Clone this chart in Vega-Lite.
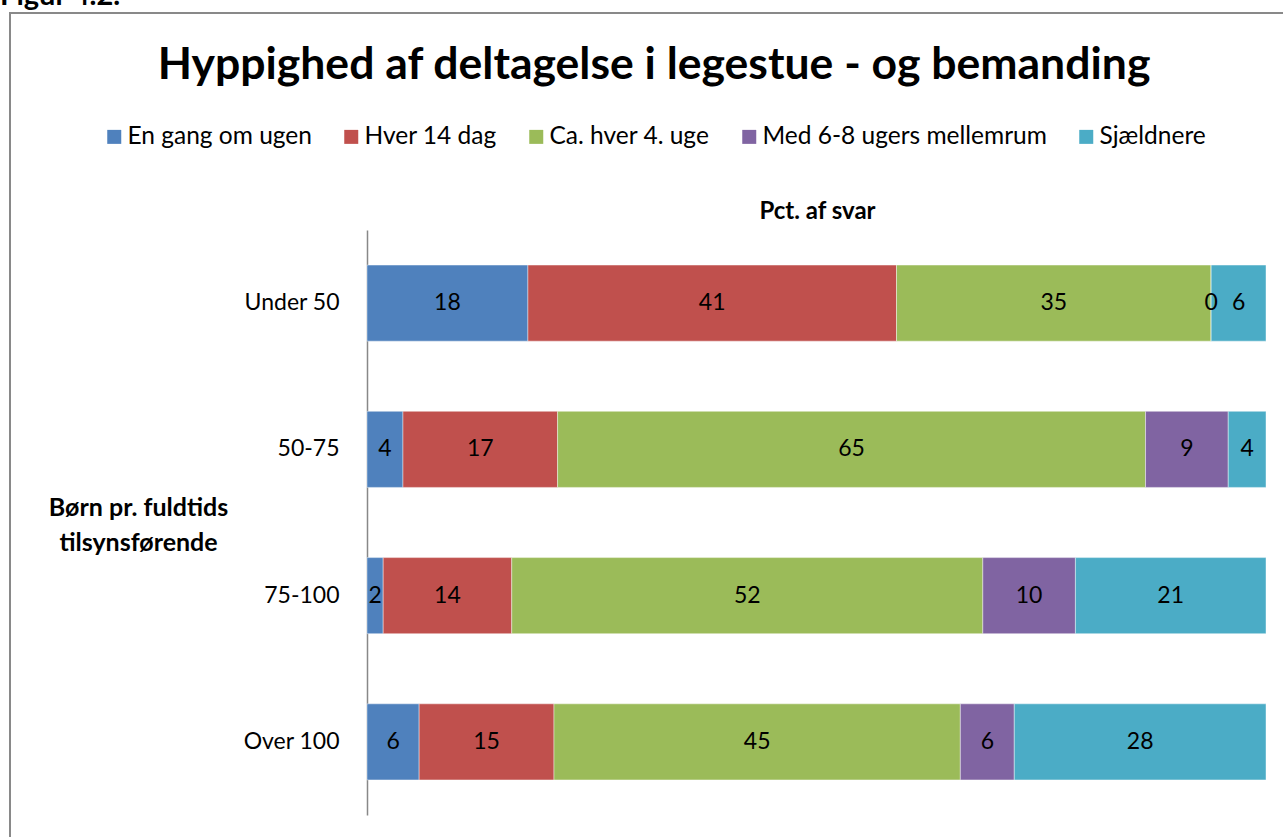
{
  "$schema": "https://vega.github.io/schema/vega-lite/v6.json",
  "width": 1400,
  "height": 900,
  "autosize": {"type": "none"},
  "padding": {"left": 10, "top": 13, "right": -127, "bottom": -76},
  "background": "white",
  "title": {"text": "Figur 4.2.", "anchor": "start", "frame": "group", "font": "Lato", "fontSize": 29, "fontWeight": "bold", "color": "#000000", "dx": -10, "offset": 2},
  "config": {"view": {"stroke": "#898989", "strokeWidth": 2}, "font": "Lato"},
  "data": {"values": [
    {"group": "Under 50", "series": "En gang om ugen", "idx": 1, "value": 17.9, "label": "18"},
    {"group": "Under 50", "series": "Hver 14 dag", "idx": 2, "value": 41.0, "label": "41"},
    {"group": "Under 50", "series": "Ca. hver 4. uge", "idx": 3, "value": 35.0, "label": "35"},
    {"group": "Under 50", "series": "Med 6-8 ugers mellemrum", "idx": 4, "value": 0, "label": "0"},
    {"group": "Under 50", "series": "Sjældnere", "idx": 5, "value": 6.1, "label": "6"},
    {"group": "50-75", "series": "En gang om ugen", "idx": 1, "value": 4.0, "label": "4"},
    {"group": "50-75", "series": "Hver 14 dag", "idx": 2, "value": 17.2, "label": "17"},
    {"group": "50-75", "series": "Ca. hver 4. uge", "idx": 3, "value": 65.4, "label": "65"},
    {"group": "50-75", "series": "Med 6-8 ugers mellemrum", "idx": 4, "value": 9.2, "label": "9"},
    {"group": "50-75", "series": "Sjældnere", "idx": 5, "value": 4.2, "label": "4"},
    {"group": "75-100", "series": "En gang om ugen", "idx": 1, "value": 1.8, "label": "2"},
    {"group": "75-100", "series": "Hver 14 dag", "idx": 2, "value": 14.3, "label": "14"},
    {"group": "75-100", "series": "Ca. hver 4. uge", "idx": 3, "value": 52.4, "label": "52"},
    {"group": "75-100", "series": "Med 6-8 ugers mellemrum", "idx": 4, "value": 10.3, "label": "10"},
    {"group": "75-100", "series": "Sjældnere", "idx": 5, "value": 21.2, "label": "21"},
    {"group": "Over 100", "series": "En gang om ugen", "idx": 1, "value": 5.8, "label": "6"},
    {"group": "Over 100", "series": "Hver 14 dag", "idx": 2, "value": 15.0, "label": "15"},
    {"group": "Over 100", "series": "Ca. hver 4. uge", "idx": 3, "value": 45.2, "label": "45"},
    {"group": "Over 100", "series": "Med 6-8 ugers mellemrum", "idx": 4, "value": 6.0, "label": "6"},
    {"group": "Over 100", "series": "Sjældnere", "idx": 5, "value": 28.0, "label": "28"}
  ]},
  "transform": [
    {"stack": "value", "groupby": ["group"], "sort": [{"field": "idx", "order": "ascending"}], "as": ["v0", "v1"]}
  ],
  "encoding": {
    "y": {
      "field": "group", "type": "nominal",
      "sort": ["Under 50", "50-75", "75-100", "Over 100"],
      "scale": {"range": [217, 802], "paddingInner": 0.48, "paddingOuter": 0.24},
      "axis": {
        "orient": "left", "offset": -357,
        "title": ["Børn pr. fuldtids", "tilsynsførende"],
        "titleAngle": 0, "titleFont": "Lato", "titleFontSize": 25, "titleFontWeight": "bold", "titleColor": "#000000",
        "titleAlign": "center", "titleBaseline": "alphabetic", "titleX": -229, "titleY": 502, "titleLineHeight": 35,
        "labelFont": "Lato", "labelFontSize": 23, "labelColor": "#000000", "labelPadding": 28,
        "ticks": false, "grid": false, "domainColor": "#888888", "domainWidth": 1.5
      }
    }
  },
  "layer": [
    {
      "mark": {"type": "bar", "stroke": "#ffffff", "strokeWidth": 0.6, "strokeOpacity": 0.7},
      "encoding": {
        "x": {
          "field": "v0", "type": "quantitative",
          "scale": {"domain": [0, 100], "range": [357, 1256], "nice": false, "zero": true},
          "axis": {
            "orient": "top", "labels": false, "ticks": false, "domain": false, "grid": false,
            "title": "Pct. af svar", "titleFont": "Lato", "titleFontSize": 24, "titleFontWeight": "bold", "titleColor": "#000000",
            "titleAlign": "center", "titleBaseline": "alphabetic", "titleX": 807, "titleY": 205
          }
        },
        "x2": {"field": "v1"},
        "color": {
          "field": "series", "type": "nominal",
          "scale": {
            "domain": ["En gang om ugen", "Hver 14 dag", "Ca. hver 4. uge", "Med 6-8 ugers mellemrum", "Sjældnere"],
            "range": ["#4F81BD", "#C0504D", "#9BBB59", "#8064A2", "#4BACC6"]
          },
          "legend": {
            "orient": "none", "legendX": 92, "legendY": 31, "direction": "horizontal",
            "title": "Hyppighed af deltagelse i legestue - og bemanding",
            "titleFont": "Lato", "titleFontSize": 44.5, "titleFontWeight": "bold", "titleColor": "#000000",
            "titleAnchor": "middle", "titleLimit": 3000, "titlePadding": 36,
            "symbolType": "square", "symbolSize": 196, "symbolStrokeWidth": 0, "symbolOpacity": 1,
            "labelFont": "Lato", "labelFontSize": 24.5, "labelColor": "#000000", "labelOffset": 1, "labelLimit": 0,
            "columnPadding": 27
          }
        }
      }
    },
    {
      "transform": [{"fold": ["v0", "v1"], "as": ["edge", "pos"]}],
      "mark": {"type": "text", "font": "Lato", "fontSize": 23, "color": "#000000", "baseline": "middle", "align": "center"},
      "encoding": {
        "x": {"aggregate": "mean", "field": "pos", "type": "quantitative"},
        "detail": {"field": "series"},
        "text": {"field": "label", "type": "nominal"}
      }
    }
  ]
}
